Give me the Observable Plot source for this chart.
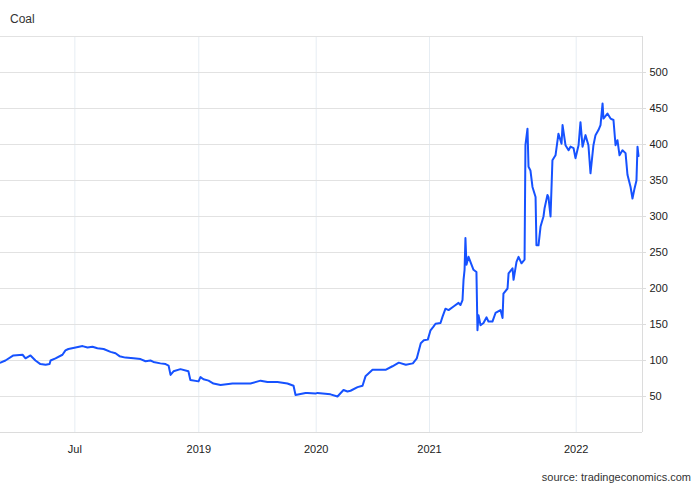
<!DOCTYPE html>
<html><head><meta charset="utf-8">
<script src="https://cdn.jsdelivr.net/npm/d3@7"></script>
<script src="https://cdn.jsdelivr.net/npm/@observablehq/plot@0.6"></script>
<style>
body{margin:0;background:#fff;font-family:"Liberation Sans",Arial,sans-serif;}
#wrap{position:relative;width:700px;height:485px;overflow:hidden;}
#title{position:absolute;left:10px;top:12px;font-size:12px;color:#333;}
#source{position:absolute;right:9px;top:471px;font-size:11px;color:#333;}
#chart{position:absolute;left:0;top:0;}
</style></head><body>
<div id="wrap"><div id="chart"></div><div id="title">Coal</div><div id="source">source: tradingeconomics.com</div></div>
<script>
// time as decimal years
const years = [
2018.200,2018.220,2018.252,2018.289,2018.301,2018.321,2018.341,2018.361,2018.382,2018.398,2018.402,2018.422,2018.450,2018.462,2018.474,2018.503,2018.531,2018.551,2018.571,2018.591,2018.616,2018.644,2018.664,2018.680,2018.704,2018.737,2018.765,2018.785,2018.805,2018.817,2018.845,2018.866,2018.878,2018.886,2018.898,2018.926,2018.958,2018.966,2018.999,
2019.014,2019.040,2019.083,2019.125,2019.185,2019.287,2019.440,2019.526,2019.585,2019.670,2019.755,2019.807,2019.824,2019.909,2019.926,2019.994,
2020.011,2020.126,2020.188,2020.241,2020.276,2020.303,2020.365,2020.409,2020.435,2020.497,2020.550,2020.612,2020.673,2020.729,2020.791,2020.853,2020.888,2020.923,2020.950,2020.985,
2021.007,2021.027,2021.041,2021.075,2021.089,2021.109,2021.130,2021.164,2021.198,2021.211,2021.225,2021.232,2021.239,2021.245,2021.252,2021.266,2021.279,2021.300,2021.320,2021.327,2021.334,2021.348,2021.368,2021.389,2021.402,2021.429,2021.450,2021.484,2021.498,2021.504,2021.532,2021.539,2021.566,2021.573,2021.593,2021.607,2021.627,2021.648,2021.654,2021.668,2021.675,2021.688,2021.702,2021.723,2021.729,2021.743,2021.757,2021.777,2021.784,2021.804,2021.811,2021.825,2021.838,2021.859,2021.879,2021.900,2021.907,2021.927,2021.948,2021.961,2021.982,2021.995,
2022.016,2022.029,2022.043,2022.063,2022.083,2022.097,2022.117,2022.131,2022.151,2022.165,2022.179,2022.185,2022.212,2022.233,2022.253,2022.267,2022.280,2022.294,2022.314,2022.335,2022.348,2022.369,2022.382,2022.396,2022.409,2022.416,2022.423
];
const prices = [
97,100,107,108,103,107,100,95,94,95,100,103,108,114,116,118,120,118,119,117,116,112,110,106,104,103,102,99,100,98,96,95,93,80,85,88,85,73,71,
77,74,72,68,66,68,68,72,70,70,68,65,52,55,55,54,
55,53,50,59,57,58,63,65,78,87,87,87,92,97,94,96,103,124,128,129,
142,147,151,152,161,172,170,175,180,177,184,212,226,270,233,244,237,226,223,142,163,149,152,160,154,154,166,170,159,193,200,221,228,212,237,244,235,240,399,422,369,364,341,327,260,260,286,300,311,330,327,300,378,385,415,401,427,399,392,397,395,381,
399,431,397,413,399,360,399,413,420,427,457,436,443,436,434,399,406,385,392,388,358,341,325,339,350,397,384
];
const xTicks = [2018.5, 2019, 2020, 2021, 2022];
const xTickLabels = ["Jul", "2019", "2020", "2021", "2022"];
const yTicks = [50, 100, 150, 200, 250, 300, 350, 400, 450, 500];
const xDomain = [2018.2, 2019, 2020, 2021, 2022, 2022.45];
const yDomain = [0, 550];

const data = years.map((t, i) => ({t, v: prices[i]}));

const chart = Plot.plot({
  width: 700, height: 485,
  marginTop: 36, marginBottom: 53, marginLeft: 0, marginRight: 58,
  style: {fontFamily: "'Liberation Sans', Arial, sans-serif", fontSize: "11px", color: "#222", background: "#fff"},
  x: {type: "linear", domain: xDomain, range: [0, 198.3, 315.7, 429, 575.7, 642], label: null},
  y: {domain: yDomain, range: [432, 36], label: null},
  marks: [
    Plot.gridX(xTicks, {stroke: "#e6edf3", strokeOpacity: 1}),
    Plot.gridY(yTicks, {stroke: "#e2e2e2", strokeOpacity: 1}),
    Plot.ruleY([yDomain[1]], {stroke: "#e2e2e2"}),
    Plot.ruleY([yDomain[0]], {stroke: "#dcdcdc"}),
    Plot.ruleX([xDomain[xDomain.length - 1]], {stroke: "#dcdcdc"}),
    Plot.axisY(yTicks, {anchor: "right", label: null, tickSize: 3, tickPadding: 4, stroke: "#dcdcdc", fill: "#222"}),
    Plot.axisX(xTicks, {anchor: "bottom", label: null, tickSize: 0, tickPadding: 13, fill: "#222",
      tickFormat: d => xTickLabels[xTicks.indexOf(d)]}),
    Plot.line(data, {x: "t", y: "v", stroke: "#1652ff", strokeWidth: 2, strokeLinejoin: "round"})
  ]
});
document.getElementById("chart").appendChild(chart);
</script>
</body></html>
